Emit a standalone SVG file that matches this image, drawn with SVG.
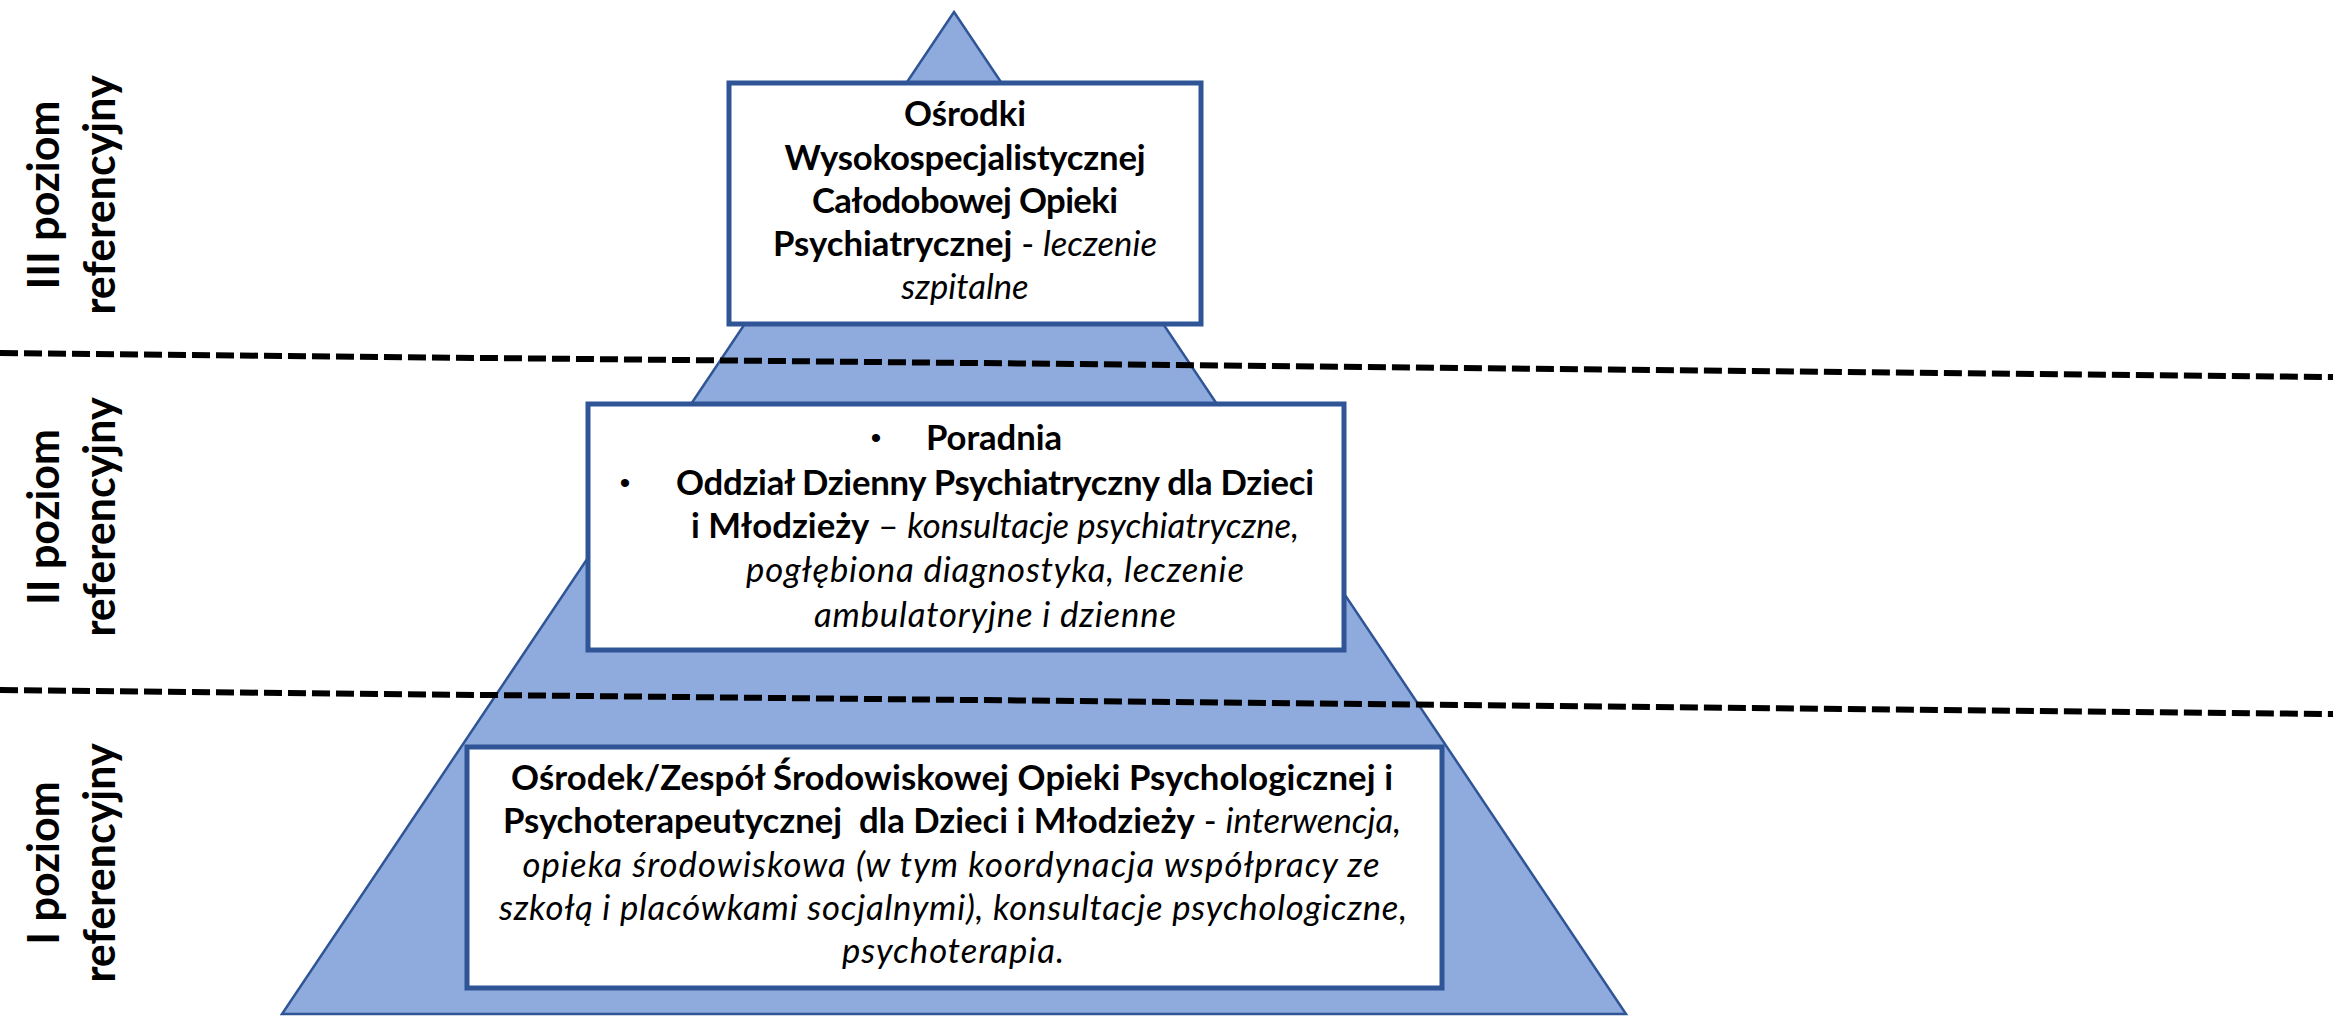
<svg xmlns="http://www.w3.org/2000/svg" width="2333" height="1017" viewBox="0 0 2333 1017">
<style>
.tri{fill:#8FAADC;stroke:#2F5597;stroke-width:2.5}
.box{fill:#FFFFFF;stroke:#2F5597;stroke-width:5}
.dash{stroke:#000;stroke-width:6;stroke-dasharray:18 6;fill:none}
.t{font-family:Lato,"Liberation Sans",sans-serif;font-size:34.7px;fill:#000;text-anchor:middle}
.b{font-weight:bold}
.i{font-style:italic}
.bul{font-family:"Liberation Sans",sans-serif;font-size:30px;fill:#000;text-anchor:middle}
.lbl{font-family:Lato,"Liberation Sans",sans-serif;font-size:43px;font-weight:bold;fill:#000;text-anchor:middle}
</style>
<rect width="2333" height="1017" fill="#FFFFFF"/>
<g id="pyramid">
<polygon class="tri" points="954,12 1626,1014 282,1014"/>
</g>
<g id="connectors">
<line class="dash" x1="0" y1="353" x2="2333" y2="377"/>
<line class="dash" x1="0" y1="690" x2="2333" y2="714"/>
</g>
<g id="level3">
<rect class="box" x="729" y="83" width="472" height="241"/>
<text class="t b" x="965" y="126" textLength="122">Ośrodki</text>
<text class="t b" x="965" y="169.5" textLength="361">Wysokospecjalistycznej</text>
<text class="t b" x="965" y="213" textLength="306">Całodobowej Opieki</text>
<text class="t" x="965" y="256"><tspan class="b">Psychiatrycznej</tspan> - <tspan class="i">leczenie</tspan></text>
<text class="t i" x="965" y="299">szpitalne</text>
</g>
<g id="level2">
<rect class="box" x="588" y="404" width="756" height="246"/>
<text class="bul" x="876" y="448">•</text>
<text class="t b" x="994" y="450" textLength="136">Poradnia</text>
<text class="bul" x="625" y="493">•</text>
<text class="t b" x="995" y="495" textLength="638">Oddział Dzienny Psychiatryczny dla Dzieci</text>
<text class="t" x="995" y="538"><tspan class="b">i Młodzieży</tspan> – <tspan class="i">konsultacje psychiatryczne,</tspan></text>
<text class="t i" x="995" y="582" textLength="498">pogłębiona diagnostyka, leczenie</text>
<text class="t i" x="995" y="627" textLength="362">ambulatoryjne i dzienne</text>
</g>
<g id="level1">
<rect class="box" x="467" y="747" width="975" height="241"/>
<text class="t b" x="952" y="790" textLength="882">Ośrodek/Zespół Środowiskowej Opieki Psychologicznej i</text>
<text class="t" x="952" y="833" xml:space="preserve"><tspan class="b">Psychoterapeutycznej  dla Dzieci i Młodzieży</tspan> - <tspan class="i">interwencja,</tspan></text>
<text class="t i" x="951" y="877" textLength="857">opieka środowiskowa (w tym koordynacja współpracy ze</text>
<text class="t i" x="953" y="920" textLength="908">szkołą i placówkami socjalnymi), konsultacje psychologiczne,</text>
<text class="t i" x="953" y="963" textLength="222">psychoterapia.</text>
</g>
<g id="label3" transform="translate(59,195) rotate(-90)">
<text class="lbl" x="0" y="0">III poziom</text>
<text class="lbl" x="0" y="56">referencyjny</text>
</g>
<g id="label2" transform="translate(59,517) rotate(-90)">
<text class="lbl" x="0" y="0">II poziom</text>
<text class="lbl" x="0" y="56">referencyjny</text>
</g>
<g id="label1" transform="translate(59,863) rotate(-90)">
<text class="lbl" x="0" y="0">I poziom</text>
<text class="lbl" x="0" y="56">referencyjny</text>
</g>
</svg>
